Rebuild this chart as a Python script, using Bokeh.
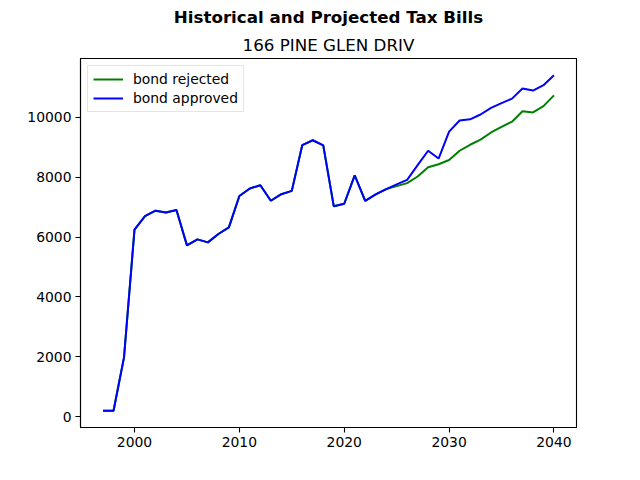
from bokeh.plotting import figure
from bokeh.models import Range1d, FixedTicker, Title, Legend, LegendItem
from bokeh.embed import file_html
from bokeh.resources import INLINE

# Tax bill history (shared by both scenarios) followed by projections
years = list(range(1997, 2041))

history = [200, 200, 1980, 6250, 6700, 6880, 6820, 6900, 5720, 5920,
           5820, 6100, 6320, 7370, 7620, 7730, 7210, 7430, 7540, 9070,
           9230, 9060, 7030, 7110, 8060, 7210]

rejected_proj = [7420, 7600, 7700, 7800, 8020, 8330, 8430, 8570, 8880,
                 9080, 9250, 9490, 9680, 9850, 10200, 10160, 10370, 10730]

approved_proj = [7420, 7600, 7760, 7910, 8400, 8880, 8620, 9520, 9890,
                 9930, 10090, 10310, 10470, 10620, 10960, 10890, 11070, 11400]

bond_rejected = history + rejected_proj
bond_approved = history + approved_proj

FONT = "DejaVu Sans"

all_vals = bond_rejected + bond_approved
ypad = (max(all_vals) - min(all_vals)) * 0.05
xpad = (max(years) - min(years)) * 0.05

p = figure(width=640, height=480, output_backend="svg", toolbar_location=None,
           x_range=Range1d(min(years) - xpad, max(years) + xpad),
           y_range=Range1d(min(all_vals) - ypad, max(all_vals) + ypad),
           min_border_left=80, min_border_right=64,
           min_border_top=58, min_border_bottom=53)

p.add_layout(Title(text="166 PINE GLEN DRIV", align="center",
                   text_font=FONT, text_font_size="16.7px",
                   text_font_style="normal", text_color="black",
                   standoff=8), "above")
p.add_layout(Title(text="Historical and Projected Tax Bills", align="center",
                   text_font=FONT, text_font_size="16.7px",
                   text_font_style="bold", text_color="black",
                   offset=-8, standoff=4), "above")

r_rej = p.line(years, bond_rejected, line_color="#008000", line_width=2)
r_app = p.line(years, bond_approved, line_color="#0000ff", line_width=2)

p.xgrid.visible = False
p.ygrid.visible = False
p.outline_line_color = "black"
p.outline_line_width = 1.1

p.xaxis.ticker = FixedTicker(ticks=[2000, 2010, 2020, 2030, 2040])
p.yaxis.ticker = FixedTicker(ticks=[0, 2000, 4000, 6000, 8000, 10000])
for ax in (p.xaxis[0], p.yaxis[0]):
    ax.major_tick_in = 0
    ax.major_tick_out = 5
    ax.minor_tick_in = 0
    ax.minor_tick_out = 0
    ax.axis_line_color = "black"
    ax.axis_line_width = 1.1
    ax.major_tick_line_color = "black"
    ax.major_tick_line_width = 1.1
    ax.major_label_text_font = FONT
    ax.major_label_text_font_size = "13.9px"
    ax.major_label_text_color = "black"
    ax.major_label_standoff = 4

legend = Legend(items=[LegendItem(label="bond rejected", renderers=[r_rej]),
                       LegendItem(label="bond approved", renderers=[r_app])],
                location="top_left", margin=7, padding=5, spacing=3,
                glyph_width=30, glyph_height=16, label_standoff=10,
                label_text_font=FONT, label_text_font_size="13.9px",
                label_text_color="black",
                border_line_color="#cccccc", border_line_width=1,
                background_fill_alpha=0.8)
p.add_layout(legend, "center")

open("out.html", "w").write(file_html(p, INLINE))
